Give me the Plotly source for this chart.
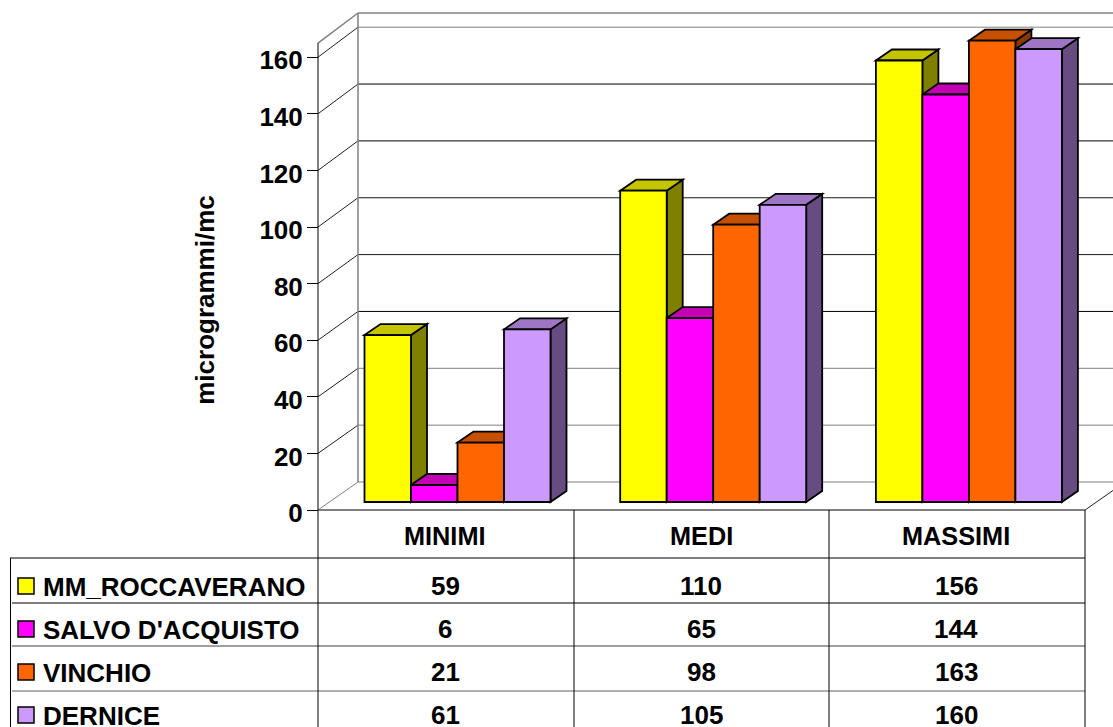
import plotly.graph_objects as go

# Data
categories = ["MINIMI", "MEDI", "MASSIMI"]
series_names = ["MM_ROCCAVERANO", "SALVO D'ACQUISTO", "VINCHIO", "DERNICE"]
roccaverano = [59, 110, 156]
salvo_acquisto = [6, 65, 144]
vinchio = [21, 98, 163]
dernice = [61, 105, 160]
y_ticks = [0, 20, 40, 60, 80, 100, 120, 140, 160]
y_title = "microgrammi/mc"

series_values = [roccaverano, salvo_acquisto, vinchio, dernice]

# Face colours for each series
front_colors = ["#FFFF00", "#FF00FF", "#FF6600", "#CC99FF"]
top_colors = ["#C4C400", "#C400B4", "#C45000", "#9E76C4"]
side_colors = ["#808000", "#800080", "#8A3A00", "#664C80"]
grid_shades = ["#808080", "#808080", "#808080", "#000000", "#1A1A1A",
               "#1A1A1A", "#000000", "#000000", "#808080"]

# Page geometry
W, H = 1113, 727
FONT = "Liberation Sans"
TICK_SIZE = 26
HEADER_SIZE = 25.3
ROW_SIZE = 26
AXIS_X = 318
ZERO_Y = 510
PLOT_BOTTOM = 600
PX_PER_GROUP = 255.7
PX_PER_UNIT = 2.83

x_range = [-AXIS_X / PX_PER_GROUP, (W - AXIS_X) / PX_PER_GROUP]
y_range = [(ZERO_Y - PLOT_BOTTOM) / PX_PER_UNIT, ZERO_Y / PX_PER_UNIT]

# Bar layout in axis units
BAR_W = 46.5 / PX_PER_GROUP
BAR_START = 46.5 / PX_PER_GROUP
BAR_LIFT = 8 / PX_PER_UNIT
BAR_DX = 16 / PX_PER_GROUP
BAR_DY = 11 / PX_PER_UNIT

# Wall depth in axis units
WALL_DX = 40 / PX_PER_GROUP
WALL_TOP = 165


def wall_back(v):
    return v * 455 / 453 + 28 / PX_PER_UNIT


def line(x0, y0, x1, y1, color="#000000", width=1, xref="x", yref="y"):
    return dict(type="line", x0=x0, y0=y0, x1=x1, y1=y1, xref=xref, yref=yref,
                layer="below", line=dict(color=color, width=width))


def poly(points, fill):
    path = "M " + " L ".join(f"{x},{y}" for x, y in points) + " Z"
    return dict(type="path", path=path, xref="x", yref="y", layer="below",
                fillcolor=fill, line=dict(color="#000000", width=1.8))


def page_line(x0, y0, x1, y1, color="#000000", width=1):
    return line(x0 / W, 1 - y0 / H, x1 / W, 1 - y1 / H, color, width, "paper", "paper")


shapes = []

# Back wall and left wall with their gridlines
for tick, shade in zip(y_ticks, grid_shades):
    back = wall_back(tick)
    shapes.append(line(WALL_DX, back, x_range[1], back, shade))
    shapes.append(line(0, tick, WALL_DX, back, "#808080" if tick == 0 else "#202020"))
shapes.append(line(WALL_DX, wall_back(0), WALL_DX, wall_back(WALL_TOP), "#808080", 1.5))
shapes.append(line(WALL_DX, wall_back(WALL_TOP), x_range[1], wall_back(WALL_TOP), "#808080", 1.5))
shapes.append(line(0, WALL_TOP, WALL_DX, wall_back(WALL_TOP), "#808080", 1.5))
shapes.append(line(0, 0, 0, WALL_TOP))
shapes.append(line(len(categories), 0, len(categories) + WALL_DX, wall_back(0), "#202020"))

# Side and top faces of each bar, left to right so nearer bars overlap
bar_traces = []
for s, (name, values) in enumerate(zip(series_names, series_values)):
    centers = [g + BAR_START + (s + 0.5) * BAR_W for g in range(len(categories))]
    for c, v in zip(centers, values):
        left, right = c - BAR_W / 2, c + BAR_W / 2
        top = v + BAR_LIFT
        shapes.append(poly([(right, BAR_LIFT), (right + BAR_DX, BAR_LIFT + BAR_DY),
                            (right + BAR_DX, top + BAR_DY), (right, top)], side_colors[s]))
        shapes.append(poly([(left, top), (left + BAR_DX, top + BAR_DY),
                            (right + BAR_DX, top + BAR_DY), (right, top)], top_colors[s]))
    bar_traces.append(go.Bar(
        x=centers, y=values, base=BAR_LIFT, width=BAR_W, name=name,
        marker=dict(color=front_colors[s], line=dict(color="#000000", width=1.8)),
        showlegend=False, cliponaxis=False,
    ))

# Data table rules
TABLE_RIGHT = 1085
COLUMN_LINES = [574, 829, TABLE_RIGHT]
ROW_RULES = [(510, 318, "#000000"), (558, 10, "#000000"), (603, 12, "#000000"),
             (646, 12, "#404040"), (691, 12, "#606060")]
for y, x0, shade in ROW_RULES:
    shapes.append(page_line(x0, y, TABLE_RIGHT, y, shade))
shapes.append(page_line(AXIS_X, ZERO_Y, AXIS_X, H))
shapes.append(page_line(10.5, 558, 10.5, H))
for x in COLUMN_LINES:
    shapes.append(page_line(x, ZERO_Y, x, H))

annotations = []


def page_text(x, y, text, size, anchor="center"):
    annotations.append(dict(
        x=x / W, y=1 - y / H, xref="paper", yref="paper", text=text, showarrow=False,
        xanchor=anchor, yanchor="middle", align=anchor,
        font=dict(family=FONT, size=size, color="#000000", weight="bold"),
    ))


COLUMN_CENTERS = [445, 701, 956]
ROW_CENTERS = [587, 630, 673, 716]
for cx, label in zip(COLUMN_CENTERS, categories):
    page_text(cx, 536, label, HEADER_SIZE)

for s, (name, values) in enumerate(zip(series_names, series_values)):
    cy = ROW_CENTERS[s]
    page_text(41, cy, name, ROW_SIZE, "left")
    for cx, v in zip(COLUMN_CENTERS, values):
        page_text(cx, cy - 1, str(v), ROW_SIZE)
    shapes.append(dict(
        type="rect", xref="paper", yref="paper",
        x0=18 / W, x1=34 / W, y0=1 - (cy - 9) / H, y1=1 - (cy + 7) / H, layer="below",
        fillcolor=front_colors[s], line=dict(color="#000000", width=1.5),
    ))

fig = go.Figure(bar_traces)
fig.update_layout(
    width=W, height=H, autosize=False,
    margin=dict(l=0, r=0, t=0, b=0, pad=0),
    paper_bgcolor="#FFFFFF", plot_bgcolor="#FFFFFF",
    barmode="overlay", showlegend=False,
    font=dict(family=FONT, size=TICK_SIZE, color="#000000"),
    shapes=shapes, annotations=annotations,
    xaxis=dict(range=x_range, domain=[0, 1], visible=False, fixedrange=True),
    yaxis=dict(
        range=y_range, domain=[1 - PLOT_BOTTOM / H, 1], anchor="free", position=AXIS_X / W,
        tickmode="array", tickvals=y_ticks, ticktext=[str(t) for t in y_ticks],
        ticks="outside", ticklen=11, tickwidth=1, tickcolor="#000000",
        showgrid=False, zeroline=False, showline=False, fixedrange=True,
        tickfont=dict(family=FONT, size=TICK_SIZE, color="#000000", weight="bold"),
        ticklabelshift=3, ticklabelstandoff=-1,
        title=dict(text=y_title, standoff=36,
                   font=dict(family=FONT, size=TICK_SIZE, color="#000000", weight="bold")),
    ),
)

fig.write_html("out.html", config=dict(displayModeBar=False))
